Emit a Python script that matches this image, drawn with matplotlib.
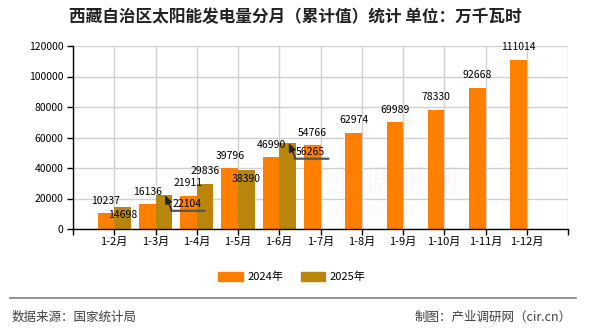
import matplotlib
matplotlib.use("Agg")
import matplotlib.pyplot as plt
from matplotlib.transforms import offset_copy
from matplotlib.patches import Patch
import numpy as np

plt.rcParams['font.family'] = ['Noto Sans CJK SC', 'DejaVu Sans']

# ================================
# DATA
# ================================
months = ['1-2月', '1-3月', '1-4月', '1-5月', '1-6月', '1-7月',
          '1-8月', '1-9月', '1-10月', '1-11月', '1-12月']
v2024 = [10237, 16136, 21911, 39796, 46990, 54766, 62974, 69989, 78330, 92668, 111014]
v2025 = [14698, 22104, 29836, 38390, 56265]
series_names = ['2024年', '2025年']

title = '西藏自治区太阳能发电量分月（累计值）统计 单位：万千瓦时'
source = '数据来源：国家统计局'
maker = '制图：产业调研网（cir.cn）'

c2024 = '#ff8000'
c2025 = '#b8860b'

# label placement for 2025: 'up', 'down' or 'callout'
place2025 = ['down', 'callout', 'up', 'down', 'callout']

# ================================
# FIGURE
# ================================
fig = plt.figure(figsize=(5.9, 3.3), dpi=100)
ax = fig.add_axes([73 / 590, 101 / 330, 495 / 590, 183 / 330])

x = np.arange(1, len(months) + 1)
w = 0.4
ax.bar(x - w / 2, v2024, width=w, color=c2024, zorder=3)
x25 = x[:len(v2025)] + w / 2
ax.bar(x25, v2025, width=w, color=c2025, zorder=3)

ax.set_xlim(0, len(months) + 1)
ax.set_ylim(0, 120000)
ax.set_yticks(np.arange(0, 120001, 20000))
ax.set_xticks(np.arange(0, len(months) + 2))
ax.set_xticklabels([''] + months + [''])
ax.tick_params(axis='both', labelsize=7.5, length=4, width=1, color='black', pad=2)
ax.tick_params(axis='y', pad=3)
ax.tick_params(axis='x', labelsize=8)
ax.grid(True, color='#d0d0d0', lw=1, zorder=0)
for s in ['top', 'right']:
    ax.spines[s].set_visible(False)
for s in ['left', 'bottom']:
    ax.spines[s].set_color('black')
    ax.spines[s].set_linewidth(1)
    ax.spines[s].set_zorder(4)

# watermark
ax.text(0.62, 0.25, '产业调研网', transform=ax.transAxes, fontsize=23,
        color='#e06060', alpha=0.05, ha='center', va='center', zorder=2)
ax.text(0.6, 0.1, 'www.cir.cn', transform=ax.transAxes, fontsize=12,
        color='#e06060', alpha=0.05, ha='center', va='center', zorder=2)

# 2024 labels
for xi, v in zip(x - w / 2, v2024):
    ax.annotate(str(v), (xi, v), xytext=(0, 12.5), textcoords='offset pixels',
                ha='center', va='center', fontsize=7.5, zorder=5)

# 2025 labels
for xi, v, p in zip(x25, v2025, place2025):
    if p == 'up':
        ax.annotate(str(v), (xi, v), xytext=(0, 12.5), textcoords='offset pixels',
                    ha='center', va='center', fontsize=7.5, zorder=5)
    elif p == 'down':
        ax.annotate(str(v), (xi, v), xytext=(0, -8.5), textcoords='offset pixels',
                    ha='center', va='center', fontsize=7.5, zorder=5)
    else:
        ax.annotate(str(v), (xi, v), xytext=(23, -8.5), textcoords='offset pixels',
                    ha='center', va='center', fontsize=7.5, zorder=6)
        ax.annotate('', (xi + 0.03, v), xytext=(7, -15.5), textcoords='offset pixels',
                    arrowprops=dict(arrowstyle='-|>,head_length=0.5,head_width=0.22',
                                    color='#222222', lw=1, shrinkA=0, shrinkB=0),
                    zorder=6)
        t0 = offset_copy(ax.transData, fig=fig, x=7, y=-15.5, units='dots')
        t1 = offset_copy(ax.transData, fig=fig, x=41, y=-15.5, units='dots')
        ax.annotate('', (xi, v), xycoords=t1, xytext=(xi, v), textcoords=t0,
                    arrowprops=dict(arrowstyle='-', color='#555555', lw=1.6,
                                    shrinkA=0, shrinkB=0),
                    zorder=6)

# legend
handles = [Patch(color=c2024), Patch(color=c2025)]
fig.legend(handles, series_names, loc='center', bbox_to_anchor=(292 / 590, 1 - 277 / 330),
           ncol=2, frameon=False, fontsize=8, handlelength=2.2, handleheight=0.9,
           handletextpad=0.4, columnspacing=1.6)

# title and footer
fig.text(0.5, 1 - 17 / 330, title, ha='center', va='center', fontsize=12,
         fontweight='bold', color='#222222')
fig.add_artist(plt.Line2D([10 / 590, 576 / 590], [1 - 298 / 330, 1 - 298 / 330],
                          color='#808080', lw=1.2))
fig.text(12 / 590, 1 - 317 / 330, source, ha='left', va='center', fontsize=9, color='#404040')
fig.text(572 / 590, 1 - 317 / 330, maker, ha='right', va='center', fontsize=9, color='#404040')

fig.savefig('out.png', dpi=100)
